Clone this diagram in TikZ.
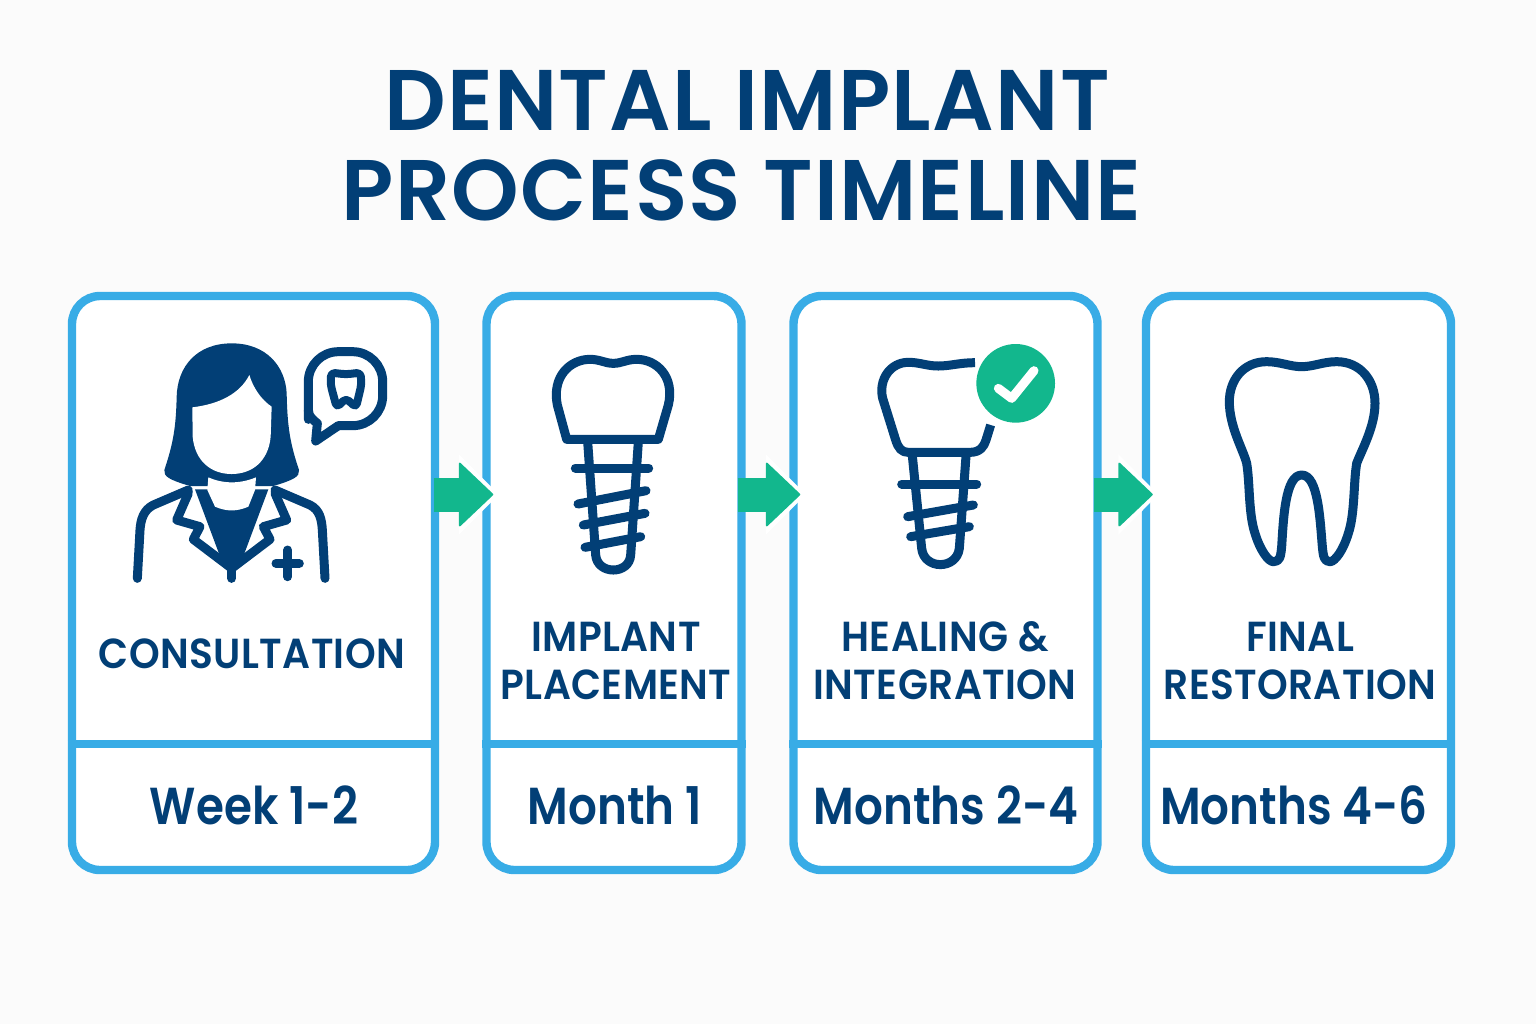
\documentclass[tikz,border=0pt]{standalone}
\usepackage{fontspec}
\setmainfont{Poppins}
\newfontfamily\headfont[LetterSpace=1.6]{Poppins SemiBold}
\newfontfamily\stepfont[FakeStretch=.93, LetterSpace=1]{Poppins SemiBold}
\newfontfamily\timefont[FakeStretch=.87]{Poppins SemiBold}
\usetikzlibrary{arrows.meta, positioning}
\definecolor{navy}{HTML}{023F76}
\definecolor{skyline}{HTML}{38ACE6}
\definecolor{flowgreen}{HTML}{12B78D}
\definecolor{pagebg}{HTML}{FBFBFB}
\tikzset{
    %Define standard icon strokes
    iconline/.style={draw=navy, line width=4.5pt, line cap=round, line join=round},
    iconfill/.style={fill=navy, draw=none},
}

\begin{document}
\begin{tikzpicture}[
    x=.5pt, y=-.5pt,
    card/.style = {draw=skyline, fill=white, line width=4.2pt, rounded corners=14pt,
                   minimum height=287pt},
    divider/.style = {draw=skyline, line width=4pt},
    flowarrow/.style = {draw=flowgreen, line width=17pt, shorten <=-4pt, shorten >=-5.5pt,
                        -{Triangle[length=17.5pt, width=33pt, line width=1pt, round, fill=flowgreen]}},
    flowhalo/.style = {draw=white, line width=1pt, shorten >=-8.3pt,
                       -{Triangle[length=20pt, width=40pt, fill=white]}},
    heading/.style = {navy, font=\fontsize{43}{43}\headfont, anchor=base},
    steplabel/.style = {navy, font=\fontsize{21}{24}\stepfont, align=center},
    timelabel/.style = {navy, font=\fontsize{26}{26}\timefont, anchor=base},
    zoomed/.style = {x=.16667pt, y=-.16667pt},
  ]
  \useasboundingbox (0,0) rectangle (1536,1024);
  \fill[pagebg] (0,0) rectangle (1536,1024);

  \node[heading] (title1) at (747,130) {DENTAL IMPLANT};
  \node[heading] (title2) at (741.5,220) {PROCESS TIMELINE};

  \node[card, minimum width=181.5pt] (card1) at (253.5,583) {};
  \node[card, minimum width=127.5pt] (card2) at (614,583) {};
  \node[card, minimum width=152pt] (card3) at (945.5,583) {};
  \node[card, minimum width=152.5pt] (card4) at (1298.5,583) {};

  \coordinate (splitline) at (0,744);
  \coordinate (flowline) at (0,494.5);
  \foreach \c in {card1, card2, card3, card4}
    \draw[divider] (\c.west |- splitline) -- (\c.east |- splitline);

  \draw[flowhalo] (card1.east |- flowline) -- (card2.west |- flowline);
  \draw[flowarrow, shorten <=-2.75pt] (card1.east |- flowline) -- (card2.west |- flowline);
  \draw[flowhalo] (card2.east |- flowline) -- (card3.west |- flowline);
  \draw[flowarrow] (card2.east |- flowline) -- (card3.west |- flowline);
  \draw[flowhalo] (card3.east |- flowline) -- (card4.west |- flowline);
  \draw[flowarrow] (card3.east |- flowline) -- (card4.west |- flowline);

  \node[steplabel] (step1) at (252,654) {CONSULTATION};
  \node[steplabel] (step2) at (616,661) {IMPLANT\\PLACEMENT};
  \node[steplabel] (step3) at (945,661) {HEALING \&\\INTEGRATION};
  \node[steplabel] (step4) at (1300,661) {FINAL\\RESTORATION};

  \node[timelabel] (time1) at (254,824) {Week 1-2};
  \node[timelabel] (time2) at (615,824) {Month 1};
  \node[timelabel] (time3) at (946,824) {Months 2-4};
  \node[timelabel] (time4) at (1294,824) {Months 4-6};

  % consultation icon
  \begin{scope}[shift={(120,330)}, zoomed]
    \fill[iconfill] (335,40) .. controls (230,40) and (172,110) .. (170,200)
      .. controls (168,290) and (160,340) .. (133,420)
      .. controls (130,440) and (150,450) .. (210,468) -- (460,468)
      .. controls (520,450) and (540,440) .. (537,420)
      .. controls (510,340) and (502,290) .. (500,190)
      .. controls (496,110) and (440,40) .. (335,40) -- cycle;
    \fill[iconfill] (225,478) -- (445,478) -- (362,700) -- (335,712) -- (308,700) -- cycle;
    \fill[white] (265,442) .. controls (310,462) and (360,462) .. (408,442)
      -- (405,480) -- (385,530) .. controls (350,545) and (320,545) .. (285,530)
      -- (262,480) -- cycle;
    \fill[white] (217,232) .. controls (300,222) and (360,190) .. (388,135)
      .. controls (400,175) and (425,210) .. (455,230) -- (452,320)
      .. controls (445,395) and (395,432) .. (335,432)
      .. controls (275,432) and (225,395) .. (218,320) -- cycle;
    \draw[iconline] (205,480) -- (100,525) .. controls (70,540) and (62,570) .. (60,600) -- (52,745);
    \draw[iconline] (465,480) -- (570,525) .. controls (600,540) and (605,570) .. (607,600) -- (615,745);
    \draw[iconline] (205,490) -- (170,570) -- (240,590) -- (220,628) -- (335,715)
      -- (450,628) -- (430,590) -- (500,570) -- (465,490);
    \draw[iconline] (335,715) -- (335,745);
    \draw[iconline] (468,700) -- (538,700) (503,660) -- (503,740);
    \draw[iconline, rounded corners=15pt] (655,287) -- (788,287) -- (788,65) -- (565,65) -- (565,268);
    \draw[iconline, line join=round] (565,240) .. controls (565,260) and (580,270) .. (592,280)
      -- (587,333) -- (655,287);
    \draw[iconline, line width=4pt, rounded corners=2pt] (678,133) -- (722,128) -- (724,165) -- (708,232)
      -- (678,205) -- (650,232) -- (632,165) -- (633,128) -- cycle;
  \end{scope}

  % implant icon
  \begin{scope}[shift={(420,340)}, zoomed]
    \draw[iconline] (440,298) -- (412,195) .. controls (395,110) and (450,58) .. (510,58)
      .. controls (540,58) and (555,70) .. (580,70) .. controls (605,70) and (620,58) .. (650,58)
      .. controls (710,58) and (765,110) .. (745,195) -- (715,298) -- cycle;
    \draw[iconline] (503,305) -- (527,645) .. controls (532,705) and (628,705) .. (632,645) -- (655,305);
    \draw[iconline] (466,384) -- (686,384);
    \draw[iconline] (474,492) -- (678,452);
    \draw[iconline] (490,555) -- (675,520);
    \draw[iconline] (495,622) -- (662,590);
  \end{scope}

  % healing icon
  \begin{scope}[shift={(730,330)}, zoomed]
    \draw[iconline, line cap=butt] (735,98) .. controls (690,98) and (660,108) .. (625,108)
      .. controls (590,108) and (570,97) .. (535,97) .. controls (480,97) and (445,150) .. (458,205)
      -- (497,330) .. controls (505,355) and (515,367) .. (535,367) -- (720,367)
      .. controls (750,367) and (762,350) .. (768,330) -- (782,285);
    \draw[iconline] (547,378) -- (575,655) .. controls (582,720) and (680,720) .. (688,655) -- (708,378);
    \draw[iconline] (515,462) -- (740,462);
    \draw[iconline] (533,560) -- (730,525);
    \draw[iconline] (542,620) -- (718,590);
    \fill[flowgreen] (857,160) circle[radius=118];
    \draw[draw=white, line width=4.5pt, line cap=round, line join=round] (805,175) -- (845,205) -- (912,122);
  \end{scope}

  % restoration icon
  \begin{scope}[shift={(1090,340)}, zoomed]
    \draw[iconline] (635,80) .. controls (600,80) and (570,65) .. (530,65)
      .. controls (460,65) and (418,120) .. (418,185)
      .. controls (418,260) and (460,330) .. (470,370)
      .. controls (480,430) and (475,520) .. (495,580)
      .. controls (510,630) and (535,665) .. (550,665)
      .. controls (570,665) and (572,650) .. (575,620)
      .. controls (580,540) and (585,405) .. (635,405)
      .. controls (685,405) and (690,540) .. (697,620)
      .. controls (700,650) and (702,665) .. (720,665)
      .. controls (735,665) and (760,630) .. (775,580)
      .. controls (795,520) and (790,430) .. (800,370)
      .. controls (815,330) and (855,260) .. (855,190)
      .. controls (855,120) and (810,65) .. (740,65)
      .. controls (700,65) and (670,80) .. (635,80) -- cycle;
  \end{scope}
\end{tikzpicture}
\end{document}
